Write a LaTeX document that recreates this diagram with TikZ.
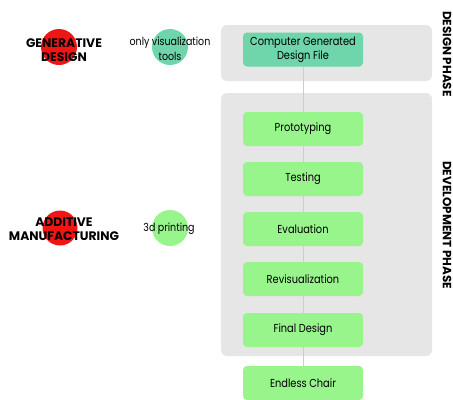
\documentclass[tikz,border=0pt]{standalone}
\usepackage{fontspec}
\setmainfont{Poppins}
\newfontfamily\narrowfont[FakeStretch=0.85]{Poppins}
\pgfdeclarelayer{panel}
\pgfdeclarelayer{wire}
\pgfsetlayers{panel,wire,main}
\definecolor{phasegray}{RGB}{230,230,230}
\definecolor{wiregray}{RGB}{205,205,205}
\definecolor{dotred}{RGB}{240,22,22}
\definecolor{tealbox}{RGB}{110,214,170}
\definecolor{greenbox}{RGB}{152,245,140}
\begin{document}
\begin{tikzpicture}[x=1bp,y=-1bp,
  stepbox/.style={rounded corners=4bp, fill=greenbox, minimum width=120bp,
    minimum height=34bp, inner sep=1bp, align=center,
    font=\narrowfont\fontsize{11.6}{14}\selectfont},
  phasebox/.style={rounded corners=6bp, fill=phasegray},
  dot/.style={circle, minimum size=36bp, inner sep=0pt},
  tag/.style={align=center, inner sep=0pt, font=\fontsize{12.4}{14.5}\selectfont\bfseries},
  note/.style={align=center, inner sep=0pt, font=\narrowfont\fontsize{11.2}{15}\selectfont},
  phaselabel/.style={rotate=-90, inner sep=0pt, font=\fontsize{12}{14}\selectfont\bfseries}]
\useasboundingbox (0,0) rectangle (453,399);

% phase panels
\begin{pgfonlayer}{panel}
  \fill[phasebox] (221,25) rectangle (432,81);
  \fill[phasebox] (221,93) rectangle (432,356);
\end{pgfonlayer}

% process steps
\node[stepbox, fill=tealbox] (cgdf) at (303,49.5) {Computer Generated\\Design File};
\node[stepbox] (proto) at (303,129) {Prototyping};
\node[stepbox] (test)  at (303,179) {Testing};
\node[stepbox] (eval)  at (303,229) {Evaluation};
\node[stepbox] (revis) at (303,279) {Revisualization};
\node[stepbox] (final) at (303,330) {Final Design};
\node[stepbox] (chair) at (303,383) {Endless Chair};

% spine running behind the steps
\begin{pgfonlayer}{wire}
  \draw[wiregray, line width=0.8bp] (cgdf.south) -- (chair.north);
\end{pgfonlayer}

% phase labels
\node[phaselabel] (dlabel) at (447,54) {DESIGN PHASE};
\node[phaselabel] (vlabel) at (447,225) {DEVELOPMENT PHASE};

% method and tool markers
\node[dot, fill=dotred] (gdot) at (59,47) {};
\node[dot, fill=tealbox] (vdot) at (170,47) {};
\node[dot, fill=dotred, minimum size=35bp] (adot) at (60,228) {};
\node[dot, fill=greenbox] (pdot) at (170,228) {};

\node[tag] (gd) at (64,50) {GENERATIVE\\DESIGN};
\node[note] (viz) at (170,49) {only visualization\\tools};
\node[tag] (am) at (64,229) {ADDITIVE\\MANUFACTURING};
\node[note] (print) at (169,229) {3d printing};
\end{tikzpicture}
\end{document}
